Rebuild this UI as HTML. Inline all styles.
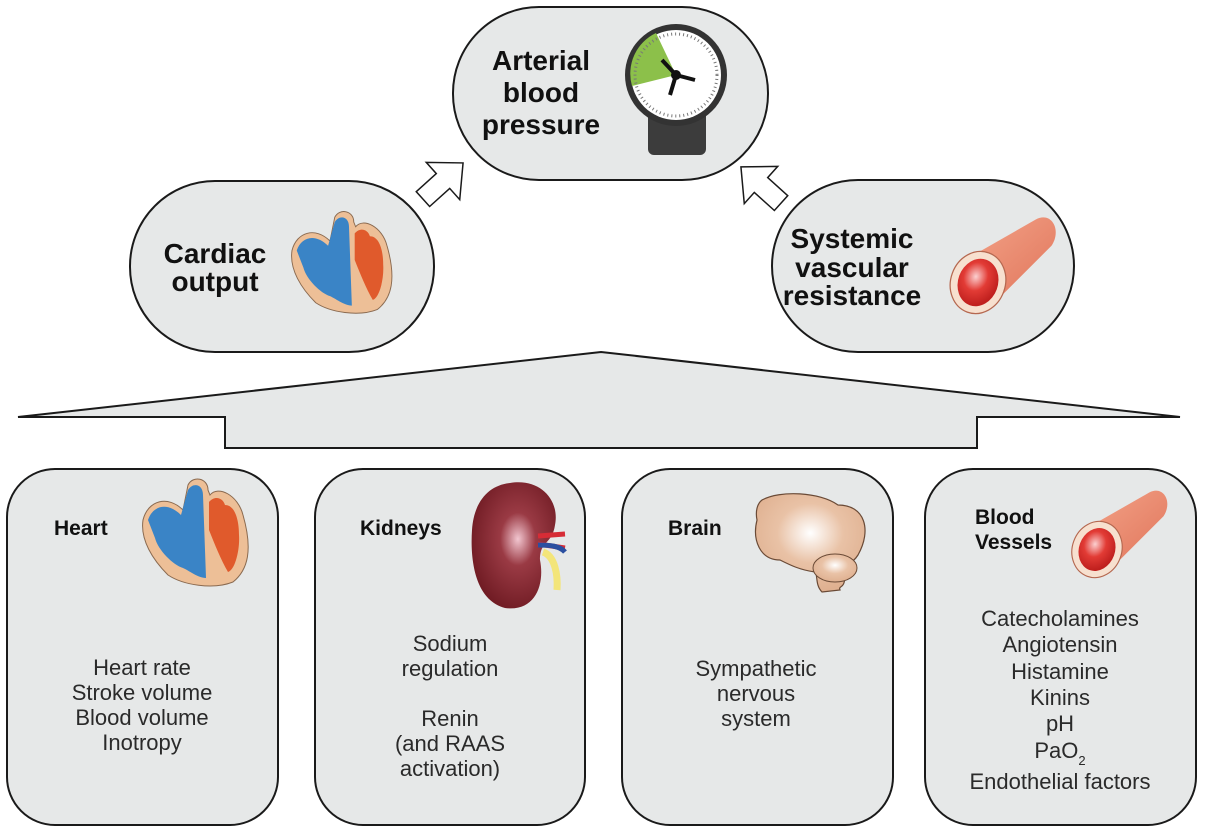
<!DOCTYPE html>
<html><head><meta charset="utf-8"><style>
html,body{margin:0;padding:0;background:#fff;}
svg{display:block;font-family:"Liberation Sans",Arial,sans-serif;}
.b{font-weight:bold;fill:#111;}
.t{fill:#2a2a2a;font-size:22px;}
</style></head><body>
<svg width="1206" height="830" viewBox="0 0 1206 830">
<defs>
<radialGradient id="kid" cx="0.55" cy="0.45" r="0.6"><stop offset="0" stop-color="#f2c6d0"/><stop offset="0.35" stop-color="#9a3a44"/><stop offset="1" stop-color="#6e1a22"/></radialGradient>
<radialGradient id="brn" cx="0.5" cy="0.4" r="0.6"><stop offset="0" stop-color="#fff"/><stop offset="0.5" stop-color="#e9c2a6"/><stop offset="1" stop-color="#dfb090"/></radialGradient>
<radialGradient id="lum" cx="0.4" cy="0.4" r="0.6"><stop offset="0" stop-color="#fbd0d0"/><stop offset="0.5" stop-color="#e23b35"/><stop offset="1" stop-color="#c0201e"/></radialGradient>
<linearGradient id="ves" x1="0" y1="0" x2="1" y2="1"><stop offset="0" stop-color="#f4a58a"/><stop offset="1" stop-color="#e0745a"/></linearGradient>
<g id="heart">
<path d="M0,30 C5,10 25,5 40,20 L45,-5 C50,-15 65,-12 65,0 L67,5 C75,-5 95,5 100,25 C110,60 105,80 90,92 C70,100 40,95 25,85 C10,70 -3,50 0,30Z" fill="#edbf97" stroke="#8a6a50" stroke-width="1"/>
<path d="M5,30 C10,15 25,12 38,25 L45,0 C50,-8 60,-6 60,5 L62,60 L63,88 C55,88 45,80 40,78 C30,75 15,60 12,48Z" fill="#3a84c6"/>
<path d="M66,12 C72,5 80,8 82,15 C92,15 96,30 96,45 C97,60 92,80 85,82 C78,70 72,55 66,40Z" fill="#e05a2c"/>
</g>
<g id="vessel">
<path d="M-15,-10 L55,-50 C70,-58 80,-40 70,-25 L20,25 C10,35 -30,25 -15,-10Z" fill="url(#ves)"/>
<ellipse cx="0" cy="10" rx="26" ry="30" transform="rotate(20 0 10)" fill="#f7e0cf" stroke="#b56850" stroke-width="1.2"/>
<ellipse cx="0" cy="10" rx="19" ry="23" transform="rotate(20 0 10)" fill="url(#lum)"/>
</g>
</defs>
<g fill="#e6e8e8" stroke="#1a1a1a" stroke-width="2">
<rect x="453" y="7" width="315" height="173" rx="86"/>
<rect x="130" y="181" width="304" height="171" rx="85"/>
<rect x="772" y="180" width="302" height="172" rx="86"/>
<polygon points="601,352 1180,417 977,417 977,448 225,448 225,417 18,417"/>
<rect x="7" y="469" width="271" height="356" rx="48"/>
<rect x="315" y="469" width="270" height="356" rx="48"/>
<rect x="622" y="469" width="271" height="356" rx="48"/>
<rect x="925" y="469" width="271" height="356" rx="48"/>
</g>
<g fill="#fff" stroke="#1a1a1a" stroke-width="1.5">
<polygon points="0,-27 25,0 10,0 10,27 -10,27 -10,0 -25,0" transform="translate(443,181) rotate(48)"/>
<polygon points="0,-27 25,0 10,0 10,27 -10,27 -10,0 -25,0" transform="translate(761,185) rotate(-48)"/>
</g>
<rect x="648" y="110" width="58" height="45" rx="6" fill="#3c3c3c"/>
<circle cx="676" cy="75" r="51" fill="#333"/>
<circle cx="676" cy="75" r="45" fill="#fff"/>
<path d="M676,75 L656,33 A45,45 0 0 0 632,86 Z" fill="#8cc04a"/>
<circle cx="676" cy="75" r="41" fill="none" stroke="#777" stroke-width="3" stroke-dasharray="1 3"/>
<path d="M676,75 L695,80 M676,75 L670,95 M676,75 L662,60" stroke="#111" stroke-width="4"/>
<circle cx="676" cy="75" r="5" fill="#111"/>
<g class="b" font-size="28" text-anchor="middle">
<text x="541" y="70">Arterial</text><text x="541" y="102">blood</text><text x="541" y="134">pressure</text>
<text x="215" y="263">Cardiac</text><text x="215" y="291">output</text>
<text x="852" y="248">Systemic</text><text x="852" y="277">vascular</text><text x="852" y="305">resistance</text>
</g>
<use href="#heart" transform="translate(292,222) scale(0.95)"/>
<use href="#vessel" transform="translate(978,272) scale(1.05)"/>
<use href="#heart" transform="translate(143,490) scale(1.0)"/>
<path d="M510,483 C540,478 560,500 555,525 C552,545 540,540 540,560 C545,585 535,612 505,608 C475,600 470,560 472,530 C474,500 490,485 510,483Z" fill="url(#kid)"/>
<path d="M538,536 L565,534 M538,544 L565,548" stroke="#d62c36" stroke-width="5"/>
<path d="M538,545 C550,545 560,546 565,552" stroke="#2b4fa0" stroke-width="5" fill="none"/>
<path d="M543,552 C555,556 558,575 557,590" stroke="#f3e57a" stroke-width="7" fill="none"/>
<path d="M762,500 C780,490 820,492 838,505 C865,505 872,530 858,555 C850,568 835,568 820,573 L845,575 C845,590 838,585 840,590 L822,592 C815,585 818,575 815,572 C800,570 790,565 780,560 C760,560 752,540 757,520 C755,510 758,503 762,500Z" fill="url(#brn)" stroke="#6a4a36" stroke-width="1.2"/>
<ellipse cx="835" cy="568" rx="22" ry="14" fill="url(#brn)" stroke="#6a4a36" stroke-width="1"/>
<use href="#vessel" transform="translate(1097,540) scale(0.95)"/>
<g class="b" font-size="21">
<text x="54" y="535">Heart</text><text x="360" y="535">Kidneys</text><text x="668" y="535">Brain</text>
<text x="975" y="524">Blood</text><text x="975" y="549">Vessels</text>
</g>
<g class="t" text-anchor="middle">
<text x="142" y="675">Heart rate</text><text x="142" y="700">Stroke volume</text><text x="142" y="725">Blood volume</text><text x="142" y="750">Inotropy</text>
<text x="450" y="651">Sodium</text><text x="450" y="676">regulation</text><text x="450" y="726">Renin</text><text x="450" y="751">(and RAAS</text><text x="450" y="776">activation)</text>
<text x="756" y="676">Sympathetic</text><text x="756" y="701">nervous</text><text x="756" y="726">system</text>
<text x="1060" y="626">Catecholamines</text><text x="1060" y="652">Angiotensin</text><text x="1060" y="679">Histamine</text><text x="1060" y="705">Kinins</text><text x="1060" y="731">pH</text><text x="1060" y="758">PaO<tspan font-size="13" dy="7">2</tspan></text><text x="1060" y="789">Endothelial factors</text>
</g>
</svg>
</body></html>
